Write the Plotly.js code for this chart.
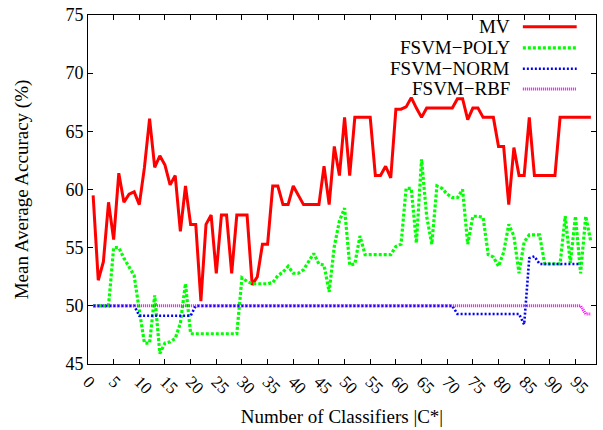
<!DOCTYPE html>
<html><head><meta charset="utf-8">
<script src="https://cdn.plot.ly/plotly-3.0.1.min.js"></script>
<style>html,body{margin:0;padding:0;background:#fff}#chart{width:603px;height:430px}</style>
</head><body><div id="chart"></div>
<script>
const classifiers = [1,2,3,4,5,6,7,8,9,10,11,12,13,14,15,16,17,18,19,20,21,22,23,24,25,26,27,28,29,30,31,32,33,34,35,36,37,38,39,40,41,42,43,44,45,46,47,48,49,50,51,52,53,54,55,56,57,58,59,60,61,62,63,64,65,66,67,68,69,70,71,72,73,74,75,76,77,78,79,80,81,82,83,84,85,86,87,88,89,90,91,92,93,94,95,96,97,98];
const seriesNames = ['MV', 'FSVM\u2212POLY', 'FSVM\u2212NORM', 'FSVM\u2212RBF'];
const mv = [59.5,52.2,53.8,58.9,55.7,61.4,58.9,59.6,59.8,58.7,61.9,66.1,61.9,62.9,62.1,60.4,61.2,56.4,60.3,57.0,57.0,50.4,57.0,57.8,52.8,57.8,57.8,52.8,57.8,57.8,57.8,51.8,52.5,55.3,55.3,60.3,60.3,58.7,58.7,60.3,59.5,58.7,58.7,58.7,58.7,62.0,58.7,63.7,61.2,66.2,61.2,66.2,66.2,66.2,66.2,61.2,61.2,62.0,61.0,66.9,66.9,67.1,67.9,67.0,66.2,67.0,67.0,67.0,67.0,67.0,67.0,67.8,67.8,66.0,67.0,67.0,66.2,66.2,66.2,63.7,63.7,58.7,63.6,61.2,61.2,66.2,61.2,61.2,61.2,61.2,61.2,66.2,66.2,66.2,66.2,66.2,66.2,66.2];
const fsvmPoly = [50.0,50.0,50.0,50.0,55.0,55.0,54.1,53.3,52.6,49.6,46.8,46.8,50.9,45.9,46.8,46.9,47.2,48.5,51.9,47.6,47.6,47.6,47.6,47.6,47.6,47.6,47.6,47.6,47.6,52.4,52.1,51.9,51.9,51.9,51.9,52.0,52.6,52.9,53.4,52.8,52.8,53.1,53.8,54.5,53.6,53.5,51.2,55.1,57.3,58.4,53.5,53.6,56.0,54.4,54.4,54.4,54.4,54.4,54.4,55.1,55.3,60.1,60.1,55.4,62.6,57.7,55.3,60.3,60.1,59.6,59.3,59.3,60.0,55.3,57.7,57.7,57.6,54.4,54.2,53.4,54.6,57.0,56.0,52.8,55.5,56.1,56.1,56.1,53.6,53.6,53.6,53.6,57.7,53.7,57.7,52.8,57.7,55.5];
const fsvmNorm = [50,50,50,50,50,50,50,50,50,49.15,49.15,49.15,49.15,49.15,49.15,49.15,49.15,49.15,49.15,49.15,50,50,50,50,50,50,50,50,50,50,50,50,50,50,50,50,50,50,50,50,50,50,50,50,50,50,50,50,50,50,50,50,50,50,50,50,50,50,50,50,50,50,50,50,50,50,50,50,50,50,50,49.3,49.3,49.3,49.3,49.3,49.3,49.3,49.3,49.3,49.3,49.3,49.3,49.3,48.4,54.1,54.25,53.6,53.6,53.6,53.6,53.6,53.6,53.6,53.6,53.6];
const fsvmRbf = [50,50,50,50,50,50,50,50,50,50,50,50,50,50,50,50,50,50,50,50,50,50,50,50,50,50,50,50,50,50,50,50,50,50,50,50,50,50,50,50,50,50,50,50,50,50,50,50,50,50,50,50,50,50,50,50,50,50,50,50,50,50,50,50,50,50,50,50,50,50,50,50,50,50,50,50,50,50,50,50,50,50,50,50,50,50,50,50,50,50,50,50,50,50,50,50,49.3,49.3];
const xTickVals = [0,5,10,15,20,25,30,35,40,45,50,55,60,65,70,75,80,85,90,95];
const yTickVals = [45,50,55,60,65,70,75];

const seriesValues = [mv, fsvmPoly, fsvmNorm, fsvmRbf];
const lineStyles = [
  {color: '#ff0000', width: 3, dash: 'solid'},
  {color: '#00ff00', width: 3.2, dash: '3px,2px'},
  {color: '#0000ff', width: 2.6, dash: '2px,2px'},
  {color: '#ff00ff', width: 3, dash: '1px,1px'}
];

const traces = seriesValues.map((vals, i) => ({
  type: 'scatter', mode: 'lines', x: classifiers, y: vals, name: seriesNames[i],
  line: lineStyles[i], showlegend: false, hoverinfo: 'skip'
}));

const legendY = [0.966, 0.906, 0.846, 0.788];
const annotations = seriesNames.map((name, i) => ({
  xref: 'paper', yref: 'paper', x: 0.834, y: legendY[i], xanchor: 'right', yanchor: 'middle',
  text: name, showarrow: false, font: {family: 'Liberation Serif', size: 19, color: '#000'}
}));
const shapes = seriesNames.map((name, i) => ({
  type: 'line', xref: 'paper', yref: 'paper', x0: 0.856, x1: 0.962, y0: legendY[i], y1: legendY[i],
  line: lineStyles[i]
}));

const axisCommon = {
  showline: true, linecolor: '#000', linewidth: 1, mirror: 'allticks',
  ticks: 'inside', ticklen: 5, tickcolor: '#000', showgrid: false, zeroline: false
};

const layout = {
  width: 603, height: 430,
  margin: {l: 88, r: 7, t: 15, b: 66},
  paper_bgcolor: '#fff', plot_bgcolor: '#fff',
  font: {family: 'Liberation Serif', color: '#000', size: 18},
  xaxis: Object.assign({}, axisCommon, {
    range: [0, 99], tickmode: 'array', tickvals: xTickVals, ticktext: xTickVals.map(String),
    tickangle: 45, tickfont: {size: 17},
    title: {text: 'Number of Classifiers |C*|', font: {size: 19}, standoff: 12}
  }),
  yaxis: Object.assign({}, axisCommon, {
    range: [45, 75], tickmode: 'array', tickvals: yTickVals, ticktext: yTickVals.map(String),
    tickfont: {size: 18},
    title: {text: 'Mean Average Accuracy (%)', font: {size: 19}, standoff: 31}
  }),
  annotations: annotations,
  shapes: shapes,
  showlegend: false
};

Plotly.newPlot('chart', traces, layout, {staticPlot: true, displayModeBar: false});
</script>
</body></html>
